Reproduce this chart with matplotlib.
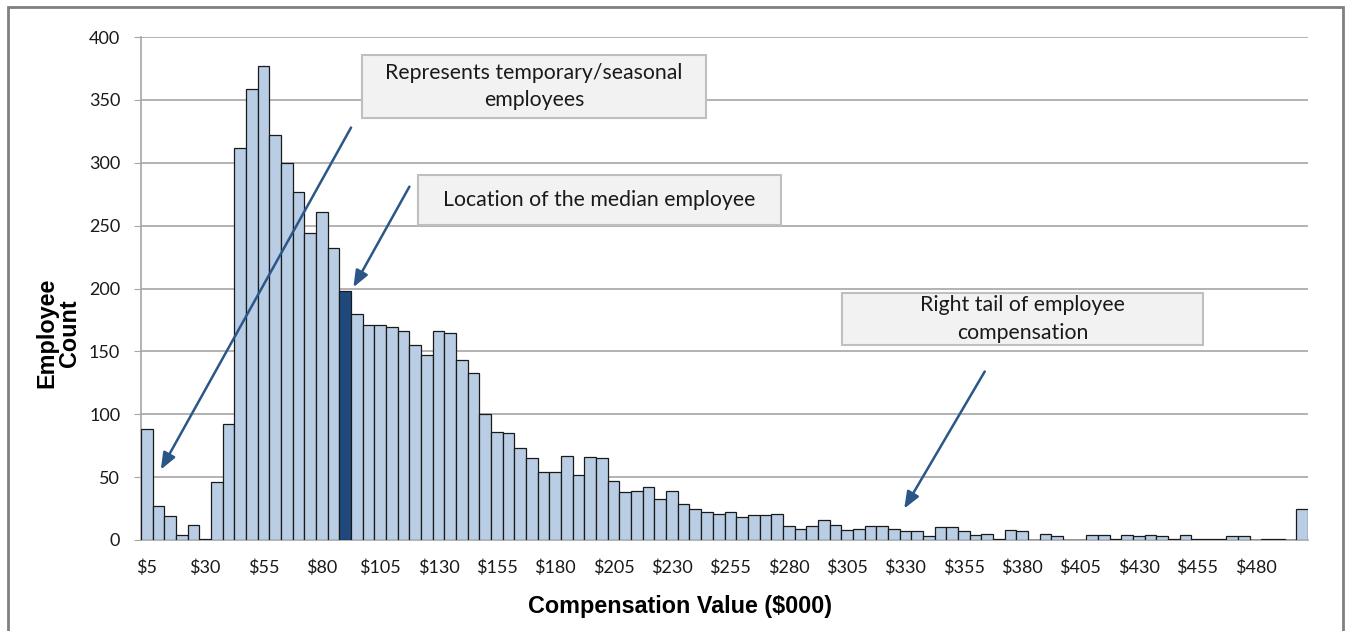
import matplotlib.pyplot as plt
from matplotlib.patches import Rectangle

# bins of $5k, the last one is $500 and up
bins = list(range(5, 505, 5))
counts = [88, 27, 19, 4, 12, 1, 46, 92, 312, 359,
          377, 322, 300, 277, 244, 261, 232, 198, 180, 171,
          171, 169, 166, 155, 147, 166, 165, 143, 133, 100,
          86, 85, 73, 65, 54, 54, 67, 52, 66, 65,
          47, 38, 39, 42, 33, 39, 29, 25, 22, 21,
          22, 18, 20, 20, 21, 11, 9, 11, 16, 12,
          8, 9, 11, 11, 9, 7, 7, 3, 10, 10,
          7, 4, 5, 1, 8, 7, 0, 5, 3, 0,
          0, 4, 4, 1, 4, 3, 4, 3, 1, 4,
          1, 1, 1, 3, 3, 0, 1, 1, 0, 25]
median_bin = 90
labels = ["$" + str(b) for b in bins]

licht = "#b9cde5"
donker = "#1f497d"
pijl = "#2a5788"

W, H = 1351, 631
fig = plt.figure(figsize=(W / 100, H / 100), dpi=100)
ax = fig.add_axes([141 / W, 1 - 540 / H, (1308 - 141) / W, (540 - 37) / H])

x = list(range(len(bins)))
kleuren = [donker if b == median_bin else licht for b in bins]
ax.bar(x, counts, width=1.0, color=kleuren, edgecolor="#1a1a1a", linewidth=0.9, zorder=3)

ax.set_xlim(-0.5, len(bins) - 0.5)
ax.set_ylim(0, 400)
ax.set_yticks(range(0, 401, 50))
ax.set_xticks(x[::5])
ax.set_xticklabels(labels[::5])
ax.grid(axis="y", color="#a6a6a6", linewidth=1.2, zorder=0)
for s in ["top", "right"]:
    ax.spines[s].set_visible(False)
ax.spines["left"].set_color("#a6a6a6")
ax.spines["bottom"].set_color("#a6a6a6")
ax.spines["left"].set_linewidth(1.2)
ax.spines["bottom"].set_linewidth(1.2)
ax.tick_params(axis="y", length=5, color="#a6a6a6", labelsize=13, pad=10)
ax.tick_params(axis="x", length=0, labelsize=13, pad=14)
for t in ax.get_xticklabels() + ax.get_yticklabels():
    t.set_fontfamily("Lato")
    t.set_color("#1a1a1a")

fig.text(680 / W, 1 - 607 / H, "Compensation Value ($000)", ha="center", va="center",
         fontsize=16.8, fontweight="bold", family="Liberation Sans")
fig.text(58 / W, 1 - 333 / H, "Employee\nCount", ha="center", va="center", rotation=90,
         fontsize=16.8, fontweight="bold", family="Liberation Sans", linespacing=1.0)

# tekstvakken (pixels)
def vak(x0, y0, x1, y1, tekst):
    fig.patches.append(Rectangle((x0 / W, 1 - y1 / H), (x1 - x0) / W, (y1 - y0) / H,
                                 transform=fig.transFigure, facecolor="#f2f2f2",
                                 edgecolor="#bfbfbf", linewidth=1.5, zorder=5))
    fig.text((x0 + x1) / 2 / W, 1 - (y0 + y1) / 2 / H, tekst, ha="center", va="center",
             fontsize=15.3, family="Lato", color="#1a1a1a", linespacing=1.45, zorder=6)

vak(362, 55, 706, 118, "Represents temporary/seasonal\nemployees")
vak(418, 175, 781, 225, "Location of the median employee")
vak(842, 293, 1203, 345, "Right tail of employee\ncompensation")

# pijlen in data-coordinaten
pijlen = [((1.2, 56), (17.5, 328)),
          ((17.7, 201), (22.5, 281)),
          ((64.9, 25), (71.8, 134))]
for kop, staart in pijlen:
    ax.annotate("", xy=kop, xytext=staart,
                arrowprops=dict(arrowstyle="-|>,head_length=1.0,head_width=0.4",
                                color=pijl, lw=1.8, shrinkA=0, shrinkB=0),
                zorder=7)

# rand om de figuur
fig.patches.append(Rectangle((8 / W, -0.01), (1343 - 8) / W, 1 - 7 / H + 0.01,
                             transform=fig.transFigure, fill=False,
                             edgecolor="#808080", linewidth=2))

fig.savefig("out.png", dpi=100)
